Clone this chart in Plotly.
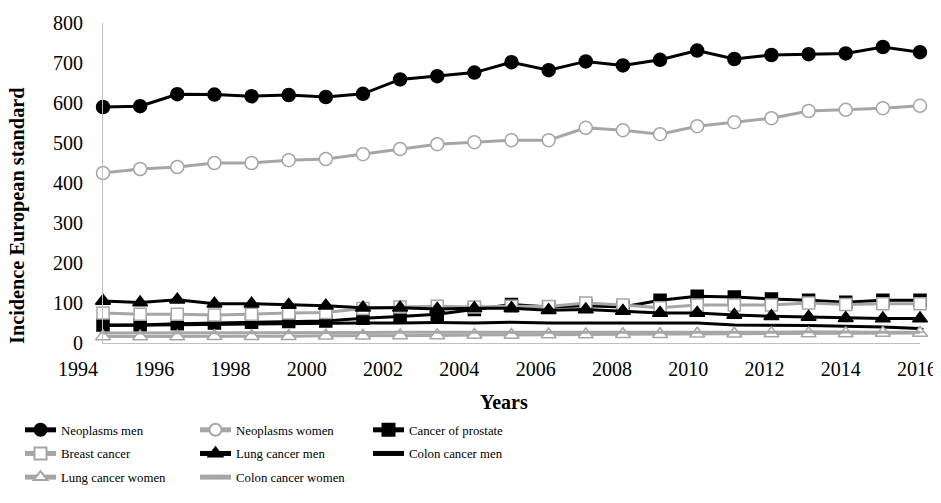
import plotly.graph_objects as go

years = list(range(1994, 2017))
year_ticks = list(range(1994, 2017, 2))
neoplasms_men = [590, 592, 622, 621, 617, 620, 615, 623, 659, 667, 676, 702, 682, 704, 694, 708, 731, 710, 720, 722, 724, 740, 727]
neoplasms_women = [425, 435, 440, 450, 450, 457, 460, 472, 485, 497, 502, 507, 507, 538, 532, 522, 542, 552, 562, 580, 583, 587, 593]
prostate = [45, 45, 48, 50, 52, 54, 55, 62, 66, 72, 84, 96, 90, 93, 90, 107, 117, 115, 110, 107, 102, 107, 107]
breast = [75, 72, 72, 70, 72, 75, 76, 86, 90, 92, 90, 92, 91, 100, 95, 88, 95, 95, 95, 100, 96, 98, 98]
lung_men = [105, 101, 108, 98, 98, 95, 93, 88, 88, 85, 87, 87, 82, 84, 80, 75, 75, 70, 67, 65, 62, 61, 61]
colon_men = [44, 45, 46, 47, 48, 48, 49, 50, 50, 51, 50, 52, 50, 50, 50, 49, 50, 45, 45, 44, 42, 40, 36]
lung_women = [16, 16, 16, 17, 17, 17, 18, 18, 19, 19, 20, 20, 21, 21, 22, 22, 23, 23, 24, 24, 24, 25, 25]
colon_women = [25, 25, 26, 25, 26, 26, 26, 26, 27, 27, 27, 26, 26, 27, 27, 27, 27, 27, 27, 28, 27, 27, 27]

x_title = "Years"
y_title = "Incidence European standard"

BLACK = "#000000"
GRAY = "#A6A6A6"
FONT = "Liberation Serif"

series = [
    ("Neoplasms men", neoplasms_men, BLACK, "circle", BLACK, BLACK, 13, "legend", 1),
    ("Neoplasms women", neoplasms_women, GRAY, "circle", "white", GRAY, 13, "legend2", 1),
    ("Cancer of prostate", prostate, BLACK, "square", BLACK, BLACK, 12, "legend3", 1),
    ("Breast cancer", breast, GRAY, "square", "white", GRAY, 12, "legend", 2),
    ("Lung cancer men", lung_men, BLACK, "triangle-up", BLACK, BLACK, 13, "legend2", 2),
    ("Colon cancer men", colon_men, BLACK, "line-ew", BLACK, BLACK, 5, "legend3", 2),
    ("Lung cancer women", lung_women, GRAY, "triangle-up", "white", GRAY, 13, "legend", 3),
    ("Colon cancer women", colon_women, GRAY, "line-ew", GRAY, GRAY, 5, "legend2", 3),
]

# the page body adds an 8px offset; work in page pixels and convert
OFF = 8
W, H = 941 - OFF, 503 - OFF
def fx(px):
    return px - OFF

ML = fx(40)
MR = W - fx(937)
MT = fx(23)
MB = H - fx(343)
plot_w = W - ML - MR
plot_h = H - MT - MB
data_dom = [(fx(103) - ML) / plot_w, (fx(920) - ML) / plot_w]

# tick-label scale of the reference (labels spread slightly wider than the points)
lab_first_px, lab_last_px = fx(78), fx(917)
px_per_year = (lab_last_px - lab_first_px) / (2016 - 1994)
lab_range = [1994 - (lab_first_px - ML) / px_per_year, 1994 + (W - MR - lab_first_px) / px_per_year]

def paper_x(px):
    return (fx(px) - ML) / plot_w
def paper_y(py):
    return (H - MB - fx(py)) / plot_h

fig = go.Figure()
for name, vals, lc, sym, fill, mline, size, leg, rank in series:
    fig.add_trace(go.Scatter(
        x=years, y=vals, name=name, mode="lines+markers",
        line=dict(color=lc, width=3),
        marker=dict(symbol=sym, size=size, color=fill, line=dict(color=mline, width=1.5)),
        legend=leg, legendgroup=name, legendrank=rank, cliponaxis=False,
    ))
# invisible trace so that the label axis is drawn
fig.add_trace(go.Scatter(x=[year_ticks[0]], y=[None], xaxis="x2", yaxis="y",
                         showlegend=False, hoverinfo="skip", mode="lines"))

def leg(xpx):
    return dict(
        x=fx(xpx) / W, y=1 - fx(415) / H, xref="container", yref="container",
        xanchor="left", yanchor="top", orientation="v",
        font=dict(family=FONT, size=12.8, color=BLACK),
        bgcolor="rgba(0,0,0,0)", itemwidth=31, tracegroupgap=4,
        traceorder="grouped", itemsizing="constant",
    )

fig.update_layout(
    width=W, height=H,
    margin=dict(l=ML, r=MR, t=MT, b=MB, autoexpand=False),
    paper_bgcolor="white", plot_bgcolor="rgba(0,0,0,0)",
    font=dict(family=FONT, size=20, color=BLACK),
    showlegend=True,
    legend=leg(20), legend2=leg(195), legend3=leg(368),
    xaxis=dict(
        domain=data_dom, range=[1994, 2016], tickvals=year_ticks,
        showticklabels=False, showgrid=False, zeroline=False,
        showline=True, linecolor="#BFBFBF", linewidth=1, ticks="", automargin=False,
    ),
    xaxis2=dict(
        anchor="free", position=0, side="bottom", domain=[0, 1],
        range=lab_range, tickvals=year_ticks, tickangle=0,
        showgrid=False, zeroline=False, showline=False, ticks="",
        ticklabelstandoff=12, automargin=False,
    ),
    yaxis=dict(
        range=[0, 800], dtick=100, automargin=False, anchor="x",
        showgrid=False, zeroline=False, showline=True, linecolor="#BFBFBF", linewidth=1,
        ticks="", ticklabelstandoff=15,
    ),
    annotations=[
        dict(text="<b>%s</b>" % x_title, xref="paper", yref="paper",
             x=paper_x(504), y=paper_y(402),
             xanchor="center", yanchor="middle", showarrow=False,
             font=dict(family=FONT, size=20, color=BLACK)),
        dict(text="<b>%s</b>" % y_title, xref="paper", yref="paper", textangle=-90,
             x=paper_x(17), y=paper_y(216),
             xanchor="center", yanchor="middle", showarrow=False,
             font=dict(family=FONT, size=20.3, color=BLACK)),
    ],
)

fig.write_html("out.html")
